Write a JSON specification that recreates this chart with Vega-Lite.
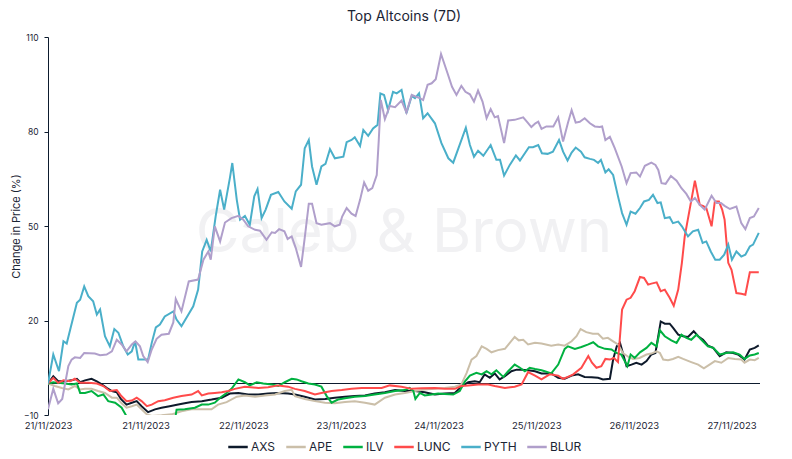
{
"$schema":"https://vega.github.io/schema/vega-lite/v6.json",
"width":712,"height":378,
"autosize":{"type":"none"},
"padding":{"left":48,"top":37,"right":32,"bottom":44},
"background":"white",
"config":{"view":{"stroke":null},"font":"Inter","legend":{"layout":{"bottom":{"anchor":"middle"}}}},
"title":{"text":"Top Altcoins (7D)","fontSize":14,"fontWeight":400,"color":"#1b2434","anchor":"middle","offset":9},
"data":{"values":[
{"coin":"AXS","hour":0,"pct":0},{"coin":"AXS","hour":1.3,"pct":2.3},{"coin":"AXS","hour":2.5,"pct":0.7},{"coin":"AXS","hour":4.2,"pct":0.7},{"coin":"AXS","hour":5.8,"pct":1.0},{"coin":"AXS","hour":7.1,"pct":1.5},{"coin":"AXS","hour":7.9,"pct":0.4},{"coin":"AXS","hour":9.1,"pct":1.0},{"coin":"AXS","hour":10.7,"pct":1.5},{"coin":"AXS","hour":12.0,"pct":0.7},{"coin":"AXS","hour":13.2,"pct":-0.3},{"coin":"AXS","hour":14.4,"pct":-1.4},{"coin":"AXS","hour":15.7,"pct":-2.4},{"coin":"AXS","hour":16.9,"pct":-2.8},{"coin":"AXS","hour":17.9,"pct":-4.9},{"coin":"AXS","hour":19.3,"pct":-6.7},{"coin":"AXS","hour":20.6,"pct":-6.1},{"coin":"AXS","hour":21.8,"pct":-5.6},{"coin":"AXS","hour":23.0,"pct":-7.2},{"coin":"AXS","hour":24.6,"pct":-9.1},{"coin":"AXS","hour":26.3,"pct":-8.2},{"coin":"AXS","hour":27.9,"pct":-7.7},{"coin":"AXS","hour":29.9,"pct":-7.2},{"coin":"AXS","hour":32.0,"pct":-6.7},{"coin":"AXS","hour":33.6,"pct":-6.3},{"coin":"AXS","hour":35.3,"pct":-5.9},{"coin":"AXS","hour":37.8,"pct":-5.6},{"coin":"AXS","hour":40.2,"pct":-5.1},{"coin":"AXS","hour":42.7,"pct":-4.5},{"coin":"AXS","hour":44.7,"pct":-3.2},{"coin":"AXS","hour":46.8,"pct":-3.0},{"coin":"AXS","hour":49.2,"pct":-3.5},{"coin":"AXS","hour":51.7,"pct":-3.5},{"coin":"AXS","hour":54.1,"pct":-3.2},{"coin":"AXS","hour":56.6,"pct":-3.0},{"coin":"AXS","hour":59.0,"pct":-3.2},{"coin":"AXS","hour":60.7,"pct":-3.5},{"coin":"AXS","hour":63.1,"pct":-4.2},{"coin":"AXS","hour":65.6,"pct":-5.1},{"coin":"AXS","hour":68.1,"pct":-4.9},{"coin":"AXS","hour":70.5,"pct":-4.5},{"coin":"AXS","hour":73.0,"pct":-4.2},{"coin":"AXS","hour":75.4,"pct":-4.0},{"coin":"AXS","hour":77.9,"pct":-3.8},{"coin":"AXS","hour":80.3,"pct":-3.2},{"coin":"AXS","hour":82.8,"pct":-2.8},{"coin":"AXS","hour":85.3,"pct":-2.1},{"coin":"AXS","hour":87.7,"pct":-2.4},{"coin":"AXS","hour":90.2,"pct":-2.4},{"coin":"AXS","hour":92.6,"pct":-2.8},{"coin":"AXS","hour":95.1,"pct":-3.5},{"coin":"AXS","hour":97.5,"pct":-3.2},{"coin":"AXS","hour":100.0,"pct":-3.0},{"coin":"AXS","hour":101.6,"pct":-1.0},{"coin":"AXS","hour":103.3,"pct":0.4},{"coin":"AXS","hour":104.9,"pct":0.7},{"coin":"AXS","hour":106.1,"pct":0.4},{"coin":"AXS","hour":107.3,"pct":2.9},{"coin":"AXS","hour":108.6,"pct":1.8},{"coin":"AXS","hour":109.8,"pct":3.2},{"coin":"AXS","hour":111.0,"pct":1.3},{"coin":"AXS","hour":112.3,"pct":2.3},{"coin":"AXS","hour":113.9,"pct":3.9},{"coin":"AXS","hour":115.2,"pct":4.4},{"coin":"AXS","hour":116.4,"pct":4.4},{"coin":"AXS","hour":118.0,"pct":4.2},{"coin":"AXS","hour":119.7,"pct":3.9},{"coin":"AXS","hour":121.3,"pct":3.2},{"coin":"AXS","hour":123.7,"pct":3.2},{"coin":"AXS","hour":125.4,"pct":1.8},{"coin":"AXS","hour":127.0,"pct":1.5},{"coin":"AXS","hour":128.7,"pct":2.5},{"coin":"AXS","hour":130.3,"pct":2.9},{"coin":"AXS","hour":131.9,"pct":2.1},{"coin":"AXS","hour":133.6,"pct":2.0},{"coin":"AXS","hour":135.2,"pct":1.8},{"coin":"AXS","hour":136.4,"pct":1.3},{"coin":"AXS","hour":138.1,"pct":1.5},{"coin":"AXS","hour":138.9,"pct":7.6},{"coin":"AXS","hour":139.8,"pct":11.8},{"coin":"AXS","hour":140.6,"pct":12.9},{"coin":"AXS","hour":142.2,"pct":5.5},{"coin":"AXS","hour":143.4,"pct":6.0},{"coin":"AXS","hour":144.6,"pct":6.6},{"coin":"AXS","hour":145.9,"pct":6.0},{"coin":"AXS","hour":147.1,"pct":7.1},{"coin":"AXS","hour":148.3,"pct":9.2},{"coin":"AXS","hour":149.3,"pct":9.7},{"coin":"AXS","hour":150.6,"pct":19.7},{"coin":"AXS","hour":151.6,"pct":19.0},{"coin":"AXS","hour":152.8,"pct":19.0},{"coin":"AXS","hour":153.6,"pct":17.7},{"coin":"AXS","hour":154.9,"pct":15.5},{"coin":"AXS","hour":156.1,"pct":15.0},{"coin":"AXS","hour":157.3,"pct":14.8},{"coin":"AXS","hour":158.7,"pct":16.6},{"coin":"AXS","hour":159.8,"pct":15.0},{"coin":"AXS","hour":161.0,"pct":13.9},{"coin":"AXS","hour":162.2,"pct":12.0},{"coin":"AXS","hour":163.5,"pct":11.3},{"coin":"AXS","hour":165.1,"pct":8.7},{"coin":"AXS","hour":166.7,"pct":9.9},{"coin":"AXS","hour":168.4,"pct":9.7},{"coin":"AXS","hour":169.6,"pct":9.2},{"coin":"AXS","hour":171.2,"pct":7.6},{"coin":"AXS","hour":172.5,"pct":10.8},{"coin":"AXS","hour":173.7,"pct":11.3},{"coin":"AXS","hour":174.7,"pct":12.1},
{"coin":"APE","hour":0,"pct":0},{"coin":"APE","hour":1.7,"pct":-0.8},{"coin":"APE","hour":3.4,"pct":-1.4},{"coin":"APE","hour":5.0,"pct":-1.9},{"coin":"APE","hour":6.6,"pct":-0.8},{"coin":"APE","hour":7.9,"pct":-1.9},{"coin":"APE","hour":9.1,"pct":-1.7},{"coin":"APE","hour":10.7,"pct":-1.7},{"coin":"APE","hour":12.3,"pct":-2.4},{"coin":"APE","hour":14.0,"pct":-3.0},{"coin":"APE","hour":15.7,"pct":-4.5},{"coin":"APE","hour":16.9,"pct":-4.5},{"coin":"APE","hour":18.1,"pct":-6.3},{"coin":"APE","hour":19.3,"pct":-7.7},{"coin":"APE","hour":20.6,"pct":-7.2},{"coin":"APE","hour":21.8,"pct":-6.7},{"coin":"APE","hour":23.0,"pct":-8.2},{"coin":"APE","hour":24.3,"pct":-9.8},{"coin":"APE","hour":25.5,"pct":-10.3},{"coin":"APE","hour":27.9,"pct":-10.1},{"coin":"APE","hour":30.4,"pct":-9.8},{"coin":"APE","hour":32.8,"pct":-8.8},{"coin":"APE","hour":35.3,"pct":-8.2},{"coin":"APE","hour":37.8,"pct":-8.2},{"coin":"APE","hour":40.2,"pct":-8.2},{"coin":"APE","hour":41.8,"pct":-6.7},{"coin":"APE","hour":43.9,"pct":-5.9},{"coin":"APE","hour":46.4,"pct":-4.2},{"coin":"APE","hour":48.4,"pct":-3.8},{"coin":"APE","hour":50.9,"pct":-4.2},{"coin":"APE","hour":53.3,"pct":-3.8},{"coin":"APE","hour":55.8,"pct":-3.5},{"coin":"APE","hour":58.2,"pct":-2.4},{"coin":"APE","hour":59.9,"pct":-2.0},{"coin":"APE","hour":60.7,"pct":-4.0},{"coin":"APE","hour":63.1,"pct":-4.9},{"coin":"APE","hour":65.6,"pct":-5.6},{"coin":"APE","hour":68.1,"pct":-6.1},{"coin":"APE","hour":70.5,"pct":-6.3},{"coin":"APE","hour":73.0,"pct":-5.9},{"coin":"APE","hour":75.4,"pct":-5.6},{"coin":"APE","hour":77.9,"pct":-6.1},{"coin":"APE","hour":80.3,"pct":-6.7},{"coin":"APE","hour":82.8,"pct":-4.5},{"coin":"APE","hour":85.3,"pct":-3.5},{"coin":"APE","hour":87.7,"pct":-3.0},{"coin":"APE","hour":90.2,"pct":-2.4},{"coin":"APE","hour":92.6,"pct":-1.9},{"coin":"APE","hour":95.1,"pct":-1.7},{"coin":"APE","hour":97.5,"pct":-1.4},{"coin":"APE","hour":100.0,"pct":-1.0},{"coin":"APE","hour":101.6,"pct":-0.3},{"coin":"APE","hour":102.9,"pct":3.4},{"coin":"APE","hour":104.1,"pct":7.6},{"coin":"APE","hour":105.3,"pct":8.7},{"coin":"APE","hour":106.6,"pct":11.8},{"coin":"APE","hour":107.8,"pct":11.0},{"coin":"APE","hour":109.0,"pct":9.9},{"coin":"APE","hour":110.6,"pct":10.6},{"coin":"APE","hour":112.3,"pct":11.0},{"coin":"APE","hour":113.5,"pct":12.9},{"coin":"APE","hour":114.7,"pct":14.8},{"coin":"APE","hour":115.7,"pct":13.7},{"coin":"APE","hour":116.8,"pct":13.9},{"coin":"APE","hour":118.0,"pct":12.4},{"coin":"APE","hour":119.7,"pct":12.9},{"coin":"APE","hour":121.3,"pct":12.7},{"coin":"APE","hour":123.7,"pct":12.0},{"coin":"APE","hour":125.4,"pct":12.4},{"coin":"APE","hour":127.0,"pct":12.0},{"coin":"APE","hour":128.7,"pct":13.4},{"coin":"APE","hour":129.9,"pct":15.0},{"coin":"APE","hour":130.9,"pct":17.3},{"coin":"APE","hour":132.3,"pct":16.3},{"coin":"APE","hour":133.9,"pct":15.8},{"coin":"APE","hour":135.2,"pct":15.8},{"coin":"APE","hour":136.4,"pct":14.2},{"coin":"APE","hour":137.6,"pct":14.5},{"coin":"APE","hour":138.9,"pct":13.4},{"coin":"APE","hour":140.1,"pct":12.4},{"coin":"APE","hour":141.3,"pct":9.7},{"coin":"APE","hour":142.6,"pct":8.5},{"coin":"APE","hour":143.8,"pct":7.8},{"coin":"APE","hour":145.4,"pct":8.1},{"coin":"APE","hour":147.1,"pct":9.2},{"coin":"APE","hour":148.3,"pct":9.5},{"coin":"APE","hour":149.6,"pct":10.2},{"coin":"APE","hour":150.4,"pct":9.7},{"coin":"APE","hour":151.2,"pct":7.6},{"coin":"APE","hour":152.4,"pct":7.4},{"coin":"APE","hour":153.6,"pct":7.8},{"coin":"APE","hour":154.9,"pct":8.5},{"coin":"APE","hour":156.1,"pct":7.8},{"coin":"APE","hour":158.1,"pct":6.8},{"coin":"APE","hour":159.8,"pct":6.0},{"coin":"APE","hour":161.2,"pct":4.8},{"coin":"APE","hour":162.6,"pct":6.0},{"coin":"APE","hour":163.9,"pct":7.1},{"coin":"APE","hour":165.5,"pct":6.6},{"coin":"APE","hour":167.2,"pct":8.1},{"coin":"APE","hour":168.8,"pct":7.8},{"coin":"APE","hour":170.4,"pct":7.6},{"coin":"APE","hour":171.2,"pct":6.6},{"coin":"APE","hour":172.5,"pct":7.6},{"coin":"APE","hour":173.7,"pct":7.4},{"coin":"APE","hour":174.7,"pct":8.1},
{"coin":"ILV","hour":0,"pct":0},{"coin":"ILV","hour":1.3,"pct":0.4},{"coin":"ILV","hour":2.5,"pct":0.2},{"coin":"ILV","hour":4.2,"pct":0},{"coin":"ILV","hour":5.8,"pct":-0.3},{"coin":"ILV","hour":7.1,"pct":0},{"coin":"ILV","hour":7.9,"pct":-3.0},{"coin":"ILV","hour":9.1,"pct":-3.0},{"coin":"ILV","hour":10.7,"pct":-2.4},{"coin":"ILV","hour":12.3,"pct":-4.0},{"coin":"ILV","hour":13.6,"pct":-3.5},{"coin":"ILV","hour":14.8,"pct":-5.6},{"coin":"ILV","hour":16.5,"pct":-6.1},{"coin":"ILV","hour":18.1,"pct":-7.7},{"coin":"ILV","hour":19.3,"pct":-10.4},{"coin":"ILV","hour":20.5,"pct":-11.0},{"coin":"ILV","hour":22.0,"pct":-11.5},{"coin":"ILV","hour":24.0,"pct":-12.0},{"coin":"ILV","hour":26.0,"pct":-12.5},{"coin":"ILV","hour":28.0,"pct":-12.0},{"coin":"ILV","hour":30.0,"pct":-11.2},{"coin":"ILV","hour":31.3,"pct":-10.8},{"coin":"ILV","hour":31.6,"pct":-8.3},{"coin":"ILV","hour":33.6,"pct":-8.2},{"coin":"ILV","hour":36.1,"pct":-7.7},{"coin":"ILV","hour":37.8,"pct":-6.7},{"coin":"ILV","hour":39.4,"pct":-6.7},{"coin":"ILV","hour":41.0,"pct":-6.1},{"coin":"ILV","hour":42.3,"pct":-4.5},{"coin":"ILV","hour":43.9,"pct":-3.0},{"coin":"ILV","hour":45.1,"pct":-1.7},{"coin":"ILV","hour":46.8,"pct":1.3},{"coin":"ILV","hour":48.4,"pct":0.4},{"coin":"ILV","hour":49.6,"pct":-0.6},{"coin":"ILV","hour":51.3,"pct":0.4},{"coin":"ILV","hour":52.9,"pct":0},{"coin":"ILV","hour":55.0,"pct":-0.3},{"coin":"ILV","hour":56.6,"pct":-0.8},{"coin":"ILV","hour":58.2,"pct":0.4},{"coin":"ILV","hour":59.9,"pct":1.5},{"coin":"ILV","hour":61.1,"pct":1.3},{"coin":"ILV","hour":62.3,"pct":0.7},{"coin":"ILV","hour":64.0,"pct":0},{"coin":"ILV","hour":65.6,"pct":-0.3},{"coin":"ILV","hour":67.2,"pct":-1.0},{"coin":"ILV","hour":68.5,"pct":-4.0},{"coin":"ILV","hour":69.7,"pct":-6.1},{"coin":"ILV","hour":71.3,"pct":-5.1},{"coin":"ILV","hour":73.0,"pct":-4.7},{"coin":"ILV","hour":75.4,"pct":-4.2},{"coin":"ILV","hour":77.9,"pct":-4.0},{"coin":"ILV","hour":80.3,"pct":-3.5},{"coin":"ILV","hour":82.8,"pct":-3.0},{"coin":"ILV","hour":85.3,"pct":-2.4},{"coin":"ILV","hour":87.7,"pct":-2.1},{"coin":"ILV","hour":88.9,"pct":-1.4},{"coin":"ILV","hour":89.8,"pct":-2.4},{"coin":"ILV","hour":90.3,"pct":-4.9},{"coin":"ILV","hour":91.4,"pct":-3.0},{"coin":"ILV","hour":92.6,"pct":-3.8},{"coin":"ILV","hour":94.3,"pct":-3.5},{"coin":"ILV","hour":95.9,"pct":-3.2},{"coin":"ILV","hour":97.5,"pct":-3.3},{"coin":"ILV","hour":99.6,"pct":-3.5},{"coin":"ILV","hour":101.2,"pct":-2.4},{"coin":"ILV","hour":102.5,"pct":0.7},{"coin":"ILV","hour":103.7,"pct":2.5},{"coin":"ILV","hour":105.3,"pct":3.4},{"coin":"ILV","hour":106.6,"pct":2.9},{"coin":"ILV","hour":107.8,"pct":3.9},{"coin":"ILV","hour":109.0,"pct":2.9},{"coin":"ILV","hour":110.2,"pct":4.2},{"coin":"ILV","hour":111.9,"pct":2.1},{"coin":"ILV","hour":113.1,"pct":3.9},{"coin":"ILV","hour":114.7,"pct":6.0},{"coin":"ILV","hour":116.0,"pct":5.0},{"coin":"ILV","hour":117.2,"pct":3.9},{"coin":"ILV","hour":118.4,"pct":5.0},{"coin":"ILV","hour":119.7,"pct":4.6},{"coin":"ILV","hour":121.3,"pct":4.2},{"coin":"ILV","hour":122.1,"pct":3.9},{"coin":"ILV","hour":123.7,"pct":3.2},{"coin":"ILV","hour":125.4,"pct":6.0},{"coin":"ILV","hour":127.0,"pct":11.0},{"coin":"ILV","hour":127.8,"pct":11.8},{"coin":"ILV","hour":129.5,"pct":11.0},{"coin":"ILV","hour":131.1,"pct":11.6},{"coin":"ILV","hour":132.8,"pct":12.4},{"coin":"ILV","hour":134.0,"pct":13.1},{"coin":"ILV","hour":135.2,"pct":11.8},{"coin":"ILV","hour":136.9,"pct":11.0},{"coin":"ILV","hour":138.5,"pct":10.8},{"coin":"ILV","hour":139.7,"pct":9.7},{"coin":"ILV","hour":140.9,"pct":9.2},{"coin":"ILV","hour":142.4,"pct":5.5},{"coin":"ILV","hour":143.2,"pct":9.2},{"coin":"ILV","hour":144.2,"pct":8.1},{"coin":"ILV","hour":145.5,"pct":9.9},{"coin":"ILV","hour":147.1,"pct":11.3},{"coin":"ILV","hour":148.3,"pct":12.9},{"coin":"ILV","hour":149.6,"pct":11.8},{"coin":"ILV","hour":150.4,"pct":16.9},{"coin":"ILV","hour":151.6,"pct":15.0},{"coin":"ILV","hour":153.2,"pct":13.7},{"coin":"ILV","hour":154.5,"pct":12.9},{"coin":"ILV","hour":155.7,"pct":15.5},{"coin":"ILV","hour":156.9,"pct":14.5},{"coin":"ILV","hour":158.1,"pct":13.9},{"coin":"ILV","hour":159.4,"pct":15.5},{"coin":"ILV","hour":160.6,"pct":13.9},{"coin":"ILV","hour":162.2,"pct":11.8},{"coin":"ILV","hour":163.5,"pct":11.3},{"coin":"ILV","hour":165.1,"pct":9.2},{"coin":"ILV","hour":166.7,"pct":9.7},{"coin":"ILV","hour":168.4,"pct":9.9},{"coin":"ILV","hour":170.0,"pct":9.2},{"coin":"ILV","hour":171.2,"pct":7.8},{"coin":"ILV","hour":172.5,"pct":8.9},{"coin":"ILV","hour":173.7,"pct":9.2},{"coin":"ILV","hour":174.7,"pct":9.7},
{"coin":"LUNC","hour":0,"pct":0},{"coin":"LUNC","hour":1.3,"pct":1.8},{"coin":"LUNC","hour":2.5,"pct":0.2},{"coin":"LUNC","hour":3.8,"pct":1.0},{"coin":"LUNC","hour":5.4,"pct":0.7},{"coin":"LUNC","hour":6.6,"pct":1.5},{"coin":"LUNC","hour":7.9,"pct":0.2},{"coin":"LUNC","hour":9.9,"pct":0.2},{"coin":"LUNC","hour":12.0,"pct":0},{"coin":"LUNC","hour":13.6,"pct":-0.8},{"coin":"LUNC","hour":15.2,"pct":-2.4},{"coin":"LUNC","hour":16.9,"pct":-2.1},{"coin":"LUNC","hour":17.9,"pct":-3.8},{"coin":"LUNC","hour":19.3,"pct":-5.6},{"coin":"LUNC","hour":20.6,"pct":-5.4},{"coin":"LUNC","hour":21.8,"pct":-4.5},{"coin":"LUNC","hour":23.0,"pct":-5.6},{"coin":"LUNC","hour":24.3,"pct":-7.2},{"coin":"LUNC","hour":25.5,"pct":-6.7},{"coin":"LUNC","hour":27.1,"pct":-5.6},{"coin":"LUNC","hour":28.7,"pct":-5.3},{"coin":"LUNC","hour":30.8,"pct":-4.5},{"coin":"LUNC","hour":32.8,"pct":-4.0},{"coin":"LUNC","hour":35.3,"pct":-3.5},{"coin":"LUNC","hour":36.9,"pct":-2.4},{"coin":"LUNC","hour":37.8,"pct":-3.8},{"coin":"LUNC","hour":39.4,"pct":-3.2},{"coin":"LUNC","hour":41.0,"pct":-3.0},{"coin":"LUNC","hour":42.7,"pct":-2.8},{"coin":"LUNC","hour":44.3,"pct":-2.4},{"coin":"LUNC","hour":45.9,"pct":-1.7},{"coin":"LUNC","hour":48.4,"pct":-1.0},{"coin":"LUNC","hour":51.7,"pct":-1.4},{"coin":"LUNC","hour":54.1,"pct":-1.2},{"coin":"LUNC","hour":56.6,"pct":-0.6},{"coin":"LUNC","hour":59.0,"pct":-1.0},{"coin":"LUNC","hour":60.7,"pct":-1.7},{"coin":"LUNC","hour":63.1,"pct":-2.4},{"coin":"LUNC","hour":65.6,"pct":-3.5},{"coin":"LUNC","hour":67.2,"pct":-3.0},{"coin":"LUNC","hour":69.7,"pct":-2.4},{"coin":"LUNC","hour":72.2,"pct":-2.1},{"coin":"LUNC","hour":74.6,"pct":-1.7},{"coin":"LUNC","hour":77.1,"pct":-1.4},{"coin":"LUNC","hour":79.5,"pct":-1.4},{"coin":"LUNC","hour":82.0,"pct":-1.4},{"coin":"LUNC","hour":84.0,"pct":-0.6},{"coin":"LUNC","hour":86.9,"pct":-1.0},{"coin":"LUNC","hour":89.4,"pct":-1.7},{"coin":"LUNC","hour":91.8,"pct":-1.5},{"coin":"LUNC","hour":95.1,"pct":-1.4},{"coin":"LUNC","hour":97.5,"pct":-1.7},{"coin":"LUNC","hour":100.0,"pct":-1.7},{"coin":"LUNC","hour":101.6,"pct":-0.8},{"coin":"LUNC","hour":103.3,"pct":-0.6},{"coin":"LUNC","hour":105.7,"pct":-0.3},{"coin":"LUNC","hour":108.2,"pct":-0.3},{"coin":"LUNC","hour":109.8,"pct":-0.8},{"coin":"LUNC","hour":112.3,"pct":-1.4},{"coin":"LUNC","hour":114.7,"pct":-1.0},{"coin":"LUNC","hour":116.4,"pct":-0.3},{"coin":"LUNC","hour":118.0,"pct":3.6},{"coin":"LUNC","hour":119.7,"pct":2.5},{"coin":"LUNC","hour":121.3,"pct":1.3},{"coin":"LUNC","hour":123.3,"pct":2.9},{"coin":"LUNC","hour":125.4,"pct":2.5},{"coin":"LUNC","hour":126.6,"pct":1.5},{"coin":"LUNC","hour":127.8,"pct":2.1},{"coin":"LUNC","hour":129.1,"pct":2.9},{"coin":"LUNC","hour":131.1,"pct":5.0},{"coin":"LUNC","hour":132.8,"pct":8.7},{"coin":"LUNC","hour":133.7,"pct":6.6},{"coin":"LUNC","hour":134.8,"pct":5.0},{"coin":"LUNC","hour":136.0,"pct":5.5},{"coin":"LUNC","hour":137.0,"pct":7.8},{"coin":"LUNC","hour":138.1,"pct":7.6},{"coin":"LUNC","hour":139.1,"pct":8.1},{"coin":"LUNC","hour":140.1,"pct":6.8},{"coin":"LUNC","hour":141.1,"pct":23.5},{"coin":"LUNC","hour":142.2,"pct":26.6},{"coin":"LUNC","hour":143.2,"pct":27.2},{"coin":"LUNC","hour":144.2,"pct":29.3},{"coin":"LUNC","hour":145.5,"pct":33.8},{"coin":"LUNC","hour":146.5,"pct":33.5},{"coin":"LUNC","hour":147.5,"pct":31.4},{"coin":"LUNC","hour":148.3,"pct":31.7},{"coin":"LUNC","hour":149.6,"pct":32.1},{"coin":"LUNC","hour":150.6,"pct":29.3},{"coin":"LUNC","hour":151.6,"pct":29.8},{"coin":"LUNC","hour":152.8,"pct":27.2},{"coin":"LUNC","hour":153.8,"pct":24.7},{"coin":"LUNC","hour":154.9,"pct":29.8},{"coin":"LUNC","hour":155.8,"pct":38.3},{"coin":"LUNC","hour":156.5,"pct":46.7},{"coin":"LUNC","hour":157.7,"pct":55.2},{"coin":"LUNC","hour":159.0,"pct":64.4},{"coin":"LUNC","hour":160.2,"pct":56.7},{"coin":"LUNC","hour":161.0,"pct":56.4},{"coin":"LUNC","hour":161.8,"pct":55.7},{"coin":"LUNC","hour":163.1,"pct":49.9},{"coin":"LUNC","hour":163.9,"pct":57.8},{"coin":"LUNC","hour":164.9,"pct":57.8},{"coin":"LUNC","hour":165.7,"pct":55.2},{"coin":"LUNC","hour":166.3,"pct":52.0},{"coin":"LUNC","hour":167.2,"pct":38.3},{"coin":"LUNC","hour":168.0,"pct":36.1},{"coin":"LUNC","hour":169.2,"pct":28.7},{"coin":"LUNC","hour":170.4,"pct":28.5},{"coin":"LUNC","hour":171.4,"pct":28.2},{"coin":"LUNC","hour":172.5,"pct":35.3},{"coin":"LUNC","hour":173.7,"pct":35.3},{"coin":"LUNC","hour":174.7,"pct":35.3},
{"coin":"PYTH","hour":0,"pct":0},{"coin":"PYTH","hour":1.3,"pct":9.2},{"coin":"PYTH","hour":2.7,"pct":3.9},{"coin":"PYTH","hour":3.8,"pct":13.4},{"coin":"PYTH","hour":4.6,"pct":12.7},{"coin":"PYTH","hour":7.1,"pct":25.6},{"coin":"PYTH","hour":7.9,"pct":26.6},{"coin":"PYTH","hour":8.9,"pct":30.8},{"coin":"PYTH","hour":9.9,"pct":27.7},{"coin":"PYTH","hour":11.1,"pct":26.1},{"coin":"PYTH","hour":12.0,"pct":21.9},{"coin":"PYTH","hour":12.8,"pct":23.5},{"coin":"PYTH","hour":14.0,"pct":15.0},{"coin":"PYTH","hour":15.2,"pct":11.8},{"coin":"PYTH","hour":16.3,"pct":17.3},{"coin":"PYTH","hour":17.3,"pct":16.1},{"coin":"PYTH","hour":18.5,"pct":11.8},{"coin":"PYTH","hour":19.6,"pct":9.2},{"coin":"PYTH","hour":20.6,"pct":10.2},{"coin":"PYTH","hour":21.4,"pct":13.4},{"coin":"PYTH","hour":22.2,"pct":7.6},{"coin":"PYTH","hour":23.4,"pct":7.6},{"coin":"PYTH","hour":24.6,"pct":7.6},{"coin":"PYTH","hour":25.5,"pct":12.9},{"coin":"PYTH","hour":26.5,"pct":17.8},{"coin":"PYTH","hour":27.5,"pct":18.7},{"coin":"PYTH","hour":28.7,"pct":21.3},{"coin":"PYTH","hour":30.8,"pct":22.9},{"coin":"PYTH","hour":31.6,"pct":20.3},{"coin":"PYTH","hour":32.8,"pct":18.2},{"coin":"PYTH","hour":35.7,"pct":24.5},{"coin":"PYTH","hour":36.9,"pct":29.8},{"coin":"PYTH","hour":37.9,"pct":41.9},{"coin":"PYTH","hour":39.0,"pct":45.6},{"coin":"PYTH","hour":40.0,"pct":41.9},{"coin":"PYTH","hour":41.2,"pct":53.0},{"coin":"PYTH","hour":42.3,"pct":61.5},{"coin":"PYTH","hour":43.3,"pct":55.2},{"coin":"PYTH","hour":44.7,"pct":65.2},{"coin":"PYTH","hour":45.3,"pct":70.0},{"coin":"PYTH","hour":46.4,"pct":58.3},{"coin":"PYTH","hour":47.2,"pct":52.0},{"coin":"PYTH","hour":48.4,"pct":53.2},{"coin":"PYTH","hour":49.6,"pct":50.4},{"coin":"PYTH","hour":50.7,"pct":59.4},{"coin":"PYTH","hour":51.5,"pct":61.7},{"coin":"PYTH","hour":52.5,"pct":52.5},{"coin":"PYTH","hour":53.5,"pct":55.2},{"coin":"PYTH","hour":54.8,"pct":59.9},{"coin":"PYTH","hour":56.6,"pct":60.8},{"coin":"PYTH","hour":58.1,"pct":57.8},{"coin":"PYTH","hour":59.9,"pct":55.5},{"coin":"PYTH","hour":60.9,"pct":61.0},{"coin":"PYTH","hour":62.2,"pct":63.1},{"coin":"PYTH","hour":63.1,"pct":74.7},{"coin":"PYTH","hour":64.1,"pct":77.3},{"coin":"PYTH","hour":64.9,"pct":68.9},{"coin":"PYTH","hour":66.0,"pct":63.1},{"coin":"PYTH","hour":67.2,"pct":68.9},{"coin":"PYTH","hour":68.2,"pct":69.7},{"coin":"PYTH","hour":69.3,"pct":74.4},{"coin":"PYTH","hour":70.5,"pct":71.5},{"coin":"PYTH","hour":72.6,"pct":72.0},{"coin":"PYTH","hour":73.4,"pct":76.6},{"coin":"PYTH","hour":74.6,"pct":77.3},{"coin":"PYTH","hour":75.4,"pct":78.2},{"coin":"PYTH","hour":76.7,"pct":75.4},{"coin":"PYTH","hour":77.5,"pct":80.5},{"coin":"PYTH","hour":78.7,"pct":78.6},{"coin":"PYTH","hour":79.9,"pct":81.0},{"coin":"PYTH","hour":81.0,"pct":82.1},{"coin":"PYTH","hour":81.7,"pct":92.1},{"coin":"PYTH","hour":82.6,"pct":91.6},{"coin":"PYTH","hour":83.6,"pct":86.8},{"coin":"PYTH","hour":84.8,"pct":92.6},{"coin":"PYTH","hour":85.7,"pct":92.1},{"coin":"PYTH","hour":86.9,"pct":93.2},{"coin":"PYTH","hour":88.1,"pct":85.8},{"coin":"PYTH","hour":89.4,"pct":91.3},{"coin":"PYTH","hour":90.2,"pct":90.6},{"coin":"PYTH","hour":91.2,"pct":92.1},{"coin":"PYTH","hour":92.2,"pct":84.2},{"coin":"PYTH","hour":93.3,"pct":85.8},{"coin":"PYTH","hour":95.1,"pct":82.6},{"coin":"PYTH","hour":96.7,"pct":76.3},{"coin":"PYTH","hour":98.4,"pct":71.5},{"coin":"PYTH","hour":99.6,"pct":70.1},{"coin":"PYTH","hour":100.8,"pct":74.4},{"coin":"PYTH","hour":102.7,"pct":81.2},{"coin":"PYTH","hour":103.7,"pct":75.7},{"coin":"PYTH","hour":104.7,"pct":72.0},{"coin":"PYTH","hour":105.7,"pct":73.9},{"coin":"PYTH","hour":107.0,"pct":72.3},{"coin":"PYTH","hour":108.8,"pct":75.7},{"coin":"PYTH","hour":110.2,"pct":71.0},{"coin":"PYTH","hour":111.1,"pct":71.0},{"coin":"PYTH","hour":112.1,"pct":66.0},{"coin":"PYTH","hour":113.5,"pct":69.4},{"coin":"PYTH","hour":115.0,"pct":72.4},{"coin":"PYTH","hour":116.0,"pct":70.8},{"coin":"PYTH","hour":118.2,"pct":75.0},{"coin":"PYTH","hour":119.2,"pct":75.0},{"coin":"PYTH","hour":120.5,"pct":75.7},{"coin":"PYTH","hour":121.4,"pct":73.1},{"coin":"PYTH","hour":122.8,"pct":72.9},{"coin":"PYTH","hour":124.1,"pct":73.6},{"coin":"PYTH","hour":125.6,"pct":77.3},{"coin":"PYTH","hour":126.6,"pct":73.6},{"coin":"PYTH","hour":127.7,"pct":70.8},{"coin":"PYTH","hour":128.7,"pct":73.3},{"coin":"PYTH","hour":129.7,"pct":74.9},{"coin":"PYTH","hour":131.0,"pct":73.6},{"coin":"PYTH","hour":131.9,"pct":71.8},{"coin":"PYTH","hour":133.2,"pct":71.3},{"coin":"PYTH","hour":134.2,"pct":71.0},{"coin":"PYTH","hour":135.2,"pct":70.0},{"coin":"PYTH","hour":135.9,"pct":71.0},{"coin":"PYTH","hour":137.0,"pct":67.0},{"coin":"PYTH","hour":137.8,"pct":68.0},{"coin":"PYTH","hour":138.9,"pct":66.2},{"coin":"PYTH","hour":140.1,"pct":59.4},{"coin":"PYTH","hour":141.1,"pct":54.1},{"coin":"PYTH","hour":142.2,"pct":50.4},{"coin":"PYTH","hour":143.2,"pct":54.6},{"coin":"PYTH","hour":144.4,"pct":53.9},{"coin":"PYTH","hour":145.5,"pct":55.7},{"coin":"PYTH","hour":146.5,"pct":57.8},{"coin":"PYTH","hour":147.7,"pct":58.3},{"coin":"PYTH","hour":148.7,"pct":59.9},{"coin":"PYTH","hour":149.8,"pct":57.3},{"coin":"PYTH","hour":150.6,"pct":57.5},{"coin":"PYTH","hour":151.6,"pct":52.5},{"coin":"PYTH","hour":152.8,"pct":52.8},{"coin":"PYTH","hour":153.6,"pct":50.9},{"coin":"PYTH","hour":154.9,"pct":51.4},{"coin":"PYTH","hour":155.8,"pct":49.9},{"coin":"PYTH","hour":157.3,"pct":46.7},{"coin":"PYTH","hour":158.5,"pct":48.3},{"coin":"PYTH","hour":159.8,"pct":48.8},{"coin":"PYTH","hour":160.9,"pct":44.6},{"coin":"PYTH","hour":161.8,"pct":45.1},{"coin":"PYTH","hour":162.9,"pct":41.9},{"coin":"PYTH","hour":164.0,"pct":39.3},{"coin":"PYTH","hour":165.1,"pct":39.3},{"coin":"PYTH","hour":166.2,"pct":40.9},{"coin":"PYTH","hour":167.2,"pct":44.1},{"coin":"PYTH","hour":168.1,"pct":39.3},{"coin":"PYTH","hour":169.2,"pct":41.9},{"coin":"PYTH","hour":170.4,"pct":40.3},{"coin":"PYTH","hour":171.4,"pct":40.9},{"coin":"PYTH","hour":172.5,"pct":43.5},{"coin":"PYTH","hour":173.3,"pct":44.1},{"coin":"PYTH","hour":174.7,"pct":47.8},
{"coin":"BLUR","hour":0,"pct":-8.2},{"coin":"BLUR","hour":1.3,"pct":-1.7},{"coin":"BLUR","hour":2.5,"pct":-6.3},{"coin":"BLUR","hour":3.5,"pct":-4.9},{"coin":"BLUR","hour":5.0,"pct":5.5},{"coin":"BLUR","hour":5.8,"pct":7.6},{"coin":"BLUR","hour":6.6,"pct":8.3},{"coin":"BLUR","hour":7.9,"pct":8.1},{"coin":"BLUR","hour":8.9,"pct":9.7},{"coin":"BLUR","hour":11.5,"pct":9.5},{"coin":"BLUR","hour":12.8,"pct":9.0},{"coin":"BLUR","hour":14.4,"pct":9.2},{"coin":"BLUR","hour":15.7,"pct":10.2},{"coin":"BLUR","hour":16.9,"pct":13.9},{"coin":"BLUR","hour":18.1,"pct":12.4},{"coin":"BLUR","hour":19.3,"pct":10.2},{"coin":"BLUR","hour":20.6,"pct":12.4},{"coin":"BLUR","hour":21.5,"pct":13.4},{"coin":"BLUR","hour":22.6,"pct":11.8},{"coin":"BLUR","hour":23.4,"pct":8.7},{"coin":"BLUR","hour":24.5,"pct":6.8},{"coin":"BLUR","hour":25.5,"pct":10.8},{"coin":"BLUR","hour":26.7,"pct":14.2},{"coin":"BLUR","hour":27.9,"pct":15.5},{"coin":"BLUR","hour":29.7,"pct":15.8},{"coin":"BLUR","hour":30.8,"pct":19.4},{"coin":"BLUR","hour":31.4,"pct":26.8},{"coin":"BLUR","hour":32.8,"pct":22.9},{"coin":"BLUR","hour":34.6,"pct":32.4},{"coin":"BLUR","hour":36.9,"pct":33.0},{"coin":"BLUR","hour":38.2,"pct":39.3},{"coin":"BLUR","hour":39.4,"pct":41.9},{"coin":"BLUR","hour":40.0,"pct":39.3},{"coin":"BLUR","hour":41.0,"pct":49.9},{"coin":"BLUR","hour":42.3,"pct":45.1},{"coin":"BLUR","hour":43.5,"pct":51.1},{"coin":"BLUR","hour":45.1,"pct":52.5},{"coin":"BLUR","hour":46.8,"pct":53.2},{"coin":"BLUR","hour":48.0,"pct":52.0},{"coin":"BLUR","hour":49.2,"pct":49.9},{"coin":"BLUR","hour":50.9,"pct":48.8},{"coin":"BLUR","hour":52.1,"pct":48.5},{"coin":"BLUR","hour":53.7,"pct":45.6},{"coin":"BLUR","hour":55.0,"pct":48.0},{"coin":"BLUR","hour":55.8,"pct":47.8},{"coin":"BLUR","hour":56.8,"pct":49.0},{"coin":"BLUR","hour":58.1,"pct":48.3},{"coin":"BLUR","hour":58.9,"pct":45.9},{"coin":"BLUR","hour":59.9,"pct":46.7},{"coin":"BLUR","hour":60.9,"pct":43.0},{"coin":"BLUR","hour":62.2,"pct":37.0},{"coin":"BLUR","hour":63.1,"pct":46.2},{"coin":"BLUR","hour":64.1,"pct":57.1},{"coin":"BLUR","hour":64.9,"pct":57.1},{"coin":"BLUR","hour":66.0,"pct":50.9},{"coin":"BLUR","hour":67.2,"pct":50.4},{"coin":"BLUR","hour":69.3,"pct":50.9},{"coin":"BLUR","hour":70.5,"pct":49.9},{"coin":"BLUR","hour":71.7,"pct":50.4},{"coin":"BLUR","hour":72.3,"pct":53.0},{"coin":"BLUR","hour":73.4,"pct":55.7},{"coin":"BLUR","hour":74.6,"pct":53.9},{"coin":"BLUR","hour":75.6,"pct":53.2},{"coin":"BLUR","hour":76.7,"pct":58.3},{"coin":"BLUR","hour":77.7,"pct":63.8},{"coin":"BLUR","hour":78.7,"pct":61.2},{"coin":"BLUR","hour":79.7,"pct":62.0},{"coin":"BLUR","hour":80.8,"pct":66.2},{"coin":"BLUR","hour":81.3,"pct":77.3},{"coin":"BLUR","hour":81.8,"pct":90.0},{"coin":"BLUR","hour":82.8,"pct":83.9},{"coin":"BLUR","hour":84.0,"pct":88.1},{"coin":"BLUR","hour":85.3,"pct":87.7},{"coin":"BLUR","hour":86.9,"pct":89.8},{"coin":"BLUR","hour":88.1,"pct":86.0},{"coin":"BLUR","hour":89.4,"pct":91.6},{"coin":"BLUR","hour":90.3,"pct":91.1},{"coin":"BLUR","hour":91.4,"pct":90.6},{"coin":"BLUR","hour":92.2,"pct":90.0},{"coin":"BLUR","hour":93.3,"pct":94.8},{"coin":"BLUR","hour":94.3,"pct":95.3},{"coin":"BLUR","hour":95.3,"pct":96.6},{"coin":"BLUR","hour":96.6,"pct":104.6},{"coin":"BLUR","hour":98.2,"pct":98.5},{"coin":"BLUR","hour":99.3,"pct":94.2},{"coin":"BLUR","hour":100.4,"pct":91.6},{"coin":"BLUR","hour":101.6,"pct":94.5},{"coin":"BLUR","hour":102.6,"pct":92.6},{"coin":"BLUR","hour":103.7,"pct":91.8},{"coin":"BLUR","hour":104.7,"pct":89.5},{"coin":"BLUR","hour":105.7,"pct":93.0},{"coin":"BLUR","hour":106.8,"pct":89.5},{"coin":"BLUR","hour":107.8,"pct":84.2},{"coin":"BLUR","hour":108.8,"pct":87.1},{"coin":"BLUR","hour":109.8,"pct":84.5},{"coin":"BLUR","hour":110.6,"pct":84.9},{"coin":"BLUR","hour":112.1,"pct":76.3},{"coin":"BLUR","hour":113.1,"pct":83.5},{"coin":"BLUR","hour":114.7,"pct":83.7},{"coin":"BLUR","hour":116.8,"pct":84.5},{"coin":"BLUR","hour":117.9,"pct":82.8},{"coin":"BLUR","hour":118.8,"pct":81.4},{"coin":"BLUR","hour":119.8,"pct":82.6},{"coin":"BLUR","hour":120.5,"pct":83.1},{"coin":"BLUR","hour":121.3,"pct":80.8},{"coin":"BLUR","hour":122.5,"pct":81.6},{"coin":"BLUR","hour":124.2,"pct":81.6},{"coin":"BLUR","hour":125.4,"pct":84.5},{"coin":"BLUR","hour":126.6,"pct":76.8},{"coin":"BLUR","hour":127.8,"pct":82.8},{"coin":"BLUR","hour":128.7,"pct":86.8},{"coin":"BLUR","hour":129.7,"pct":82.8},{"coin":"BLUR","hour":130.7,"pct":83.1},{"coin":"BLUR","hour":131.9,"pct":84.2},{"coin":"BLUR","hour":133.2,"pct":82.6},{"coin":"BLUR","hour":134.4,"pct":81.6},{"coin":"BLUR","hour":135.6,"pct":81.4},{"coin":"BLUR","hour":136.2,"pct":81.6},{"coin":"BLUR","hour":137.0,"pct":77.3},{"coin":"BLUR","hour":138.1,"pct":78.3},{"coin":"BLUR","hour":139.3,"pct":74.7},{"coin":"BLUR","hour":141.0,"pct":68.9},{"coin":"BLUR","hour":142.2,"pct":63.6},{"coin":"BLUR","hour":143.2,"pct":66.8},{"coin":"BLUR","hour":144.6,"pct":67.0},{"coin":"BLUR","hour":145.5,"pct":65.7},{"coin":"BLUR","hour":146.7,"pct":69.1},{"coin":"BLUR","hour":148.3,"pct":70.1},{"coin":"BLUR","hour":149.3,"pct":69.4},{"coin":"BLUR","hour":150.0,"pct":67.8},{"coin":"BLUR","hour":150.8,"pct":63.6},{"coin":"BLUR","hour":151.8,"pct":63.4},{"coin":"BLUR","hour":153.1,"pct":65.9},{"coin":"BLUR","hour":154.5,"pct":64.4},{"coin":"BLUR","hour":155.7,"pct":62.0},{"coin":"BLUR","hour":156.9,"pct":60.2},{"coin":"BLUR","hour":158.0,"pct":57.8},{"coin":"BLUR","hour":159.0,"pct":58.9},{"coin":"BLUR","hour":160.2,"pct":56.7},{"coin":"BLUR","hour":161.4,"pct":55.2},{"coin":"BLUR","hour":163.1,"pct":59.6},{"coin":"BLUR","hour":164.3,"pct":57.3},{"coin":"BLUR","hour":165.4,"pct":57.3},{"coin":"BLUR","hour":166.3,"pct":56.4},{"coin":"BLUR","hour":167.6,"pct":55.4},{"coin":"BLUR","hour":169.2,"pct":56.2},{"coin":"BLUR","hour":170.4,"pct":50.9},{"coin":"BLUR","hour":171.4,"pct":49.0},{"coin":"BLUR","hour":172.5,"pct":52.5},{"coin":"BLUR","hour":173.5,"pct":53.0},{"coin":"BLUR","hour":174.7,"pct":55.7}
]},
"layer":[
{"data":{"values":[{"label":"Caleb & Brown","hour":87.5,"pct":41.9}]},
 "mark":{"type":"text","font":"Inter","fontSize":60,"color":"#f1f1f3","align":"center","baseline":"alphabetic"},
 "encoding":{"x":{"field":"hour","type":"quantitative","scale":{"domain":[0,175],"nice":false,"zero":false}},"y":{"field":"pct","type":"quantitative","scale":{"domain":[-10,110],"nice":false,"zero":false}},"text":{"field":"label"}}},
{"mark":{"type":"rule","color":"#0d1b2e","strokeWidth":1},
 "encoding":{"y":{"datum":0,"type":"quantitative","scale":{"domain":[-10,110],"nice":false,"zero":false}}}},
{"mark":{"type":"line","strokeWidth":2,"clip":true},
 "encoding":{
  "x":{"field":"hour","type":"quantitative","scale":{"domain":[0,175],"nice":false,"zero":false},
   "axis":{"values":[0,24,48,72,96,120,144,168],"labelExpr":"['21/11/2023','21/11/2023','22/11/2023','23/11/2023','24/11/2023','25/11/2023','26/11/2023','27/11/2023'][round(datum.value/24)]","domain":false,"ticks":false,"grid":false,"title":null,"labelFontSize":9.5,"labelColor":"#1b2434","labelPadding":5,"labelFlush":false}},
  "y":{"field":"pct","type":"quantitative","scale":{"domain":[-10,110],"nice":false,"zero":false},
   "axis":{"values":[-10,20,50,80,110],"title":"Change in Price (%)","titleFontSize":11,"titleFontWeight":"normal","titleColor":"#1b2434","titlePadding":2,"labelFontSize":8.5,"labelColor":"#1b2434","domainColor":"#0d1b2e","tickColor":"#0d1b2e","tickSize":4,"labelPadding":6,"grid":false}},
  "color":{"field":"coin","type":"nominal","scale":{"domain":["AXS","APE","ILV","LUNC","PYTH","BLUR"],"range":["#0e1a2b","#cbbfa9","#00b140","#ff4b4b","#4aafc9","#b09fcb"]},
   "legend":{"orient":"bottom","direction":"horizontal","title":null,"symbolType":"stroke","symbolStrokeWidth":2.5,"symbolSize":380,"labelFontSize":12,"labelColor":"#1b2434","offset":6,"columnPadding":5,"labelOffset":2}}
 }}
]
}
